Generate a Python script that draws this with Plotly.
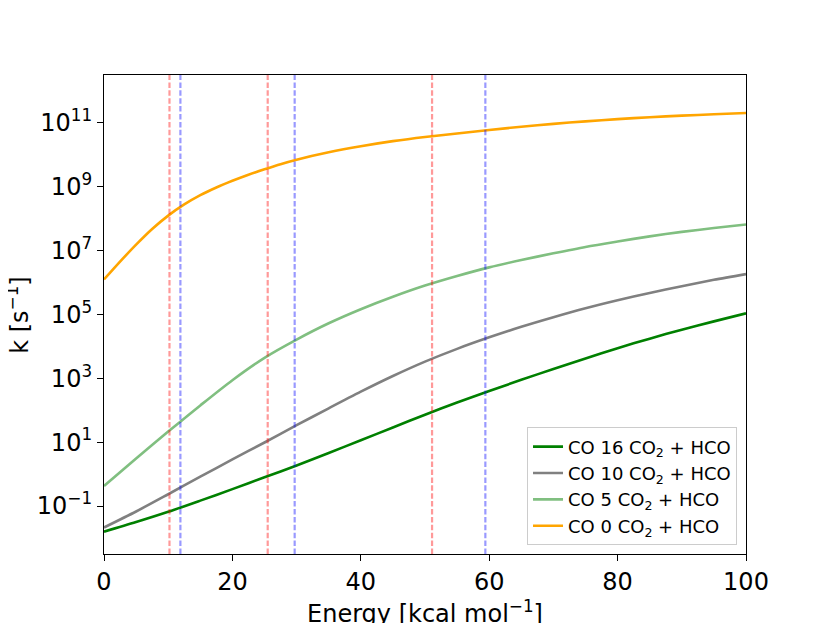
import plotly.graph_objects as go

# ---- data ----
energy = [0, 5, 10, 15, 20, 25, 30, 35, 40, 45, 50, 55, 60, 65, 70, 75, 80, 85, 90, 95, 100]

# log10(k / s^-1)
log10_k_co16 = [-1.80, -1.50, -1.18, -0.83, -0.47, -0.10, 0.27, 0.66, 1.06, 1.46, 1.86,
                2.24, 2.60, 2.95, 3.29, 3.62, 3.94, 4.24, 4.52, 4.78, 5.03]
log10_k_co10 = [-1.67, -1.17, -0.63, -0.08, 0.46, 0.99, 1.53, 2.06, 2.58, 3.07, 3.52,
                3.92, 4.28, 4.61, 4.91, 5.19, 5.44, 5.67, 5.88, 6.08, 6.26]
log10_k_co5 = [-0.37, 0.49, 1.33, 2.15, 2.94, 3.64, 4.21, 4.72, 5.16, 5.55, 5.90,
               6.20, 6.47, 6.70, 6.91, 7.11, 7.28, 7.44, 7.58, 7.70, 7.81]

# the CO 0 curve bends sharply near the origin, so it was read more densely there
energy_co0 = [0, 2.5, 5, 7.5, 10, 12.5, 15, 17.5, 20, 22.5, 25, 27.5, 30, 35, 40, 45, 50,
              55, 60, 65, 70, 75, 80, 85, 90, 95, 100]
log10_k_co0 = [6.09, 6.65, 7.18, 7.67, 8.09, 8.44, 8.73, 8.97, 9.18, 9.37, 9.54, 9.70,
               9.84, 10.07, 10.26, 10.42, 10.55, 10.66, 10.77, 10.87, 10.96, 11.04,
               11.11, 11.17, 11.22, 11.26, 11.30]

series_names = ["CO 16 CO<sub>2</sub> + HCO", "CO 10 CO<sub>2</sub> + HCO",
                "CO 5 CO<sub>2</sub> + HCO", "CO 0 CO<sub>2</sub> + HCO"]
series_colors = ["#008000", "#808080", "#80bf80", "#ffa500"]

red_lines = [10.2, 25.5, 51.1]
blue_lines = [11.9, 29.7, 59.4]

y_tick_exponents = [-1, 1, 3, 5, 7, 9, 11]
x_ticks = [0, 20, 40, 60, 80, 100]

x_title = "Energy [kcal mol<sup>−1</sup>]"
y_title = "k [s<sup>−1</sup>]"

FONT = "DejaVu Sans"

fig = go.Figure()
for name, color, xs, logs in zip(series_names, series_colors,
                                 [energy, energy, energy, energy_co0],
                                 [log10_k_co16, log10_k_co10, log10_k_co5, log10_k_co0]):
    fig.add_trace(go.Scatter(
        x=xs, y=[10 ** v for v in logs], mode="lines", name=name,
        line=dict(color=color, width=2.6, shape="spline", smoothing=0.8),
    ))

for xv in red_lines:
    fig.add_shape(type="line", xref="x", yref="paper", x0=xv, x1=xv, y0=0, y1=1,
                  line=dict(color="rgba(255,0,0,0.4)", width=2.2, dash="5.5px,2.4px"),
                  layer="above")
for xv in blue_lines:
    fig.add_shape(type="line", xref="x", yref="paper", x0=xv, x1=xv, y0=0, y1=1,
                  line=dict(color="rgba(0,0,255,0.4)", width=2.2, dash="5.5px,2.4px"),
                  layer="above")

# axis titles placed as annotations for exact positioning
fig.add_annotation(text=x_title, xref="paper", yref="paper", x=0.5, y=-0.084,
                   xanchor="center", yanchor="top", showarrow=False,
                   font=dict(family=FONT, size=24, color="black"))
fig.add_annotation(text=y_title, xref="paper", yref="paper", x=-0.135, y=0.5,
                   xanchor="center", yanchor="middle", showarrow=False, textangle=-90,
                   font=dict(family=FONT, size=24, color="black"))

fig.update_layout(
    width=822, height=615,
    margin=dict(l=95.7, r=84, t=66.7, b=69.3, autoexpand=False),
    paper_bgcolor="white", plot_bgcolor="white",
    font=dict(family=FONT, color="black", size=24),
    showlegend=True,
    legend=dict(
        x=0.986, y=0.018, xanchor="right", yanchor="bottom",
        bgcolor="rgba(255,255,255,0.8)", bordercolor="#cccccc", borderwidth=1,
        font=dict(family=FONT, size=18, color="black"),
    ),
)

fig.update_xaxes(
    range=[0, 100], tickvals=x_ticks, ticktext=[str(v) for v in x_ticks],
    showgrid=False, zeroline=False,
    showline=True, linecolor="black", linewidth=1.2, mirror=True,
    ticks="outside", ticklen=6, tickwidth=1.2, tickcolor="black",
    tickfont=dict(family=FONT, size=24),
)
fig.update_yaxes(
    type="log", range=[-2.5, 12.49],
    tickvals=[10 ** e for e in y_tick_exponents],
    ticktext=["10<sup>%s</sup>" % (str(e).replace("-", "−")) for e in y_tick_exponents],
    showgrid=False, zeroline=False,
    showline=True, linecolor="black", linewidth=1.2, mirror=True,
    ticks="outside", ticklen=6, tickwidth=1.2, tickcolor="black",
    tickfont=dict(family=FONT, size=24),
)

fig.write_html("out.html")
